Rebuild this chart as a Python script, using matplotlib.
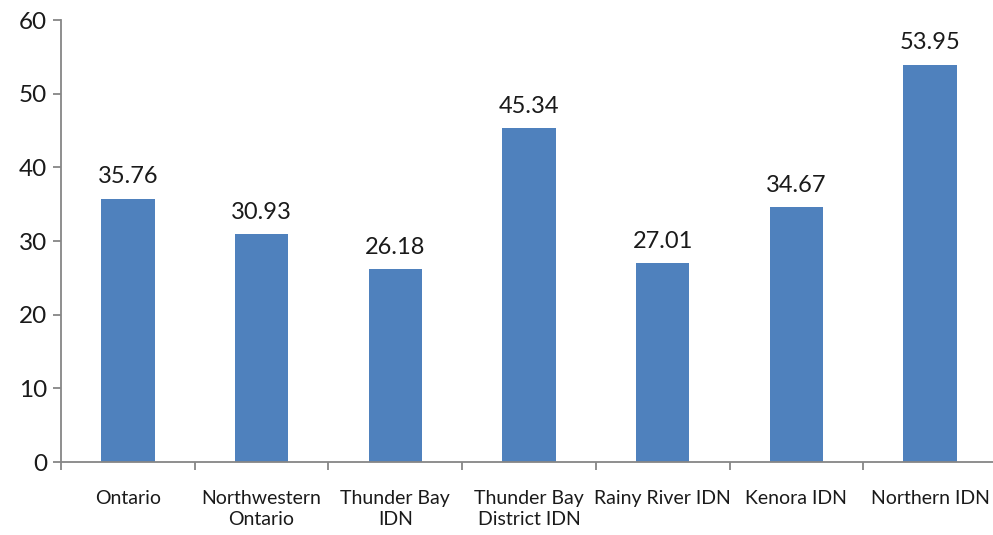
import matplotlib
matplotlib.use("Agg")
import matplotlib.pyplot as plt
import numpy as np

categories = ["Ontario", "Northwestern\nOntario", "Thunder Bay\nIDN", "Thunder Bay\nDistrict IDN",
              "Rainy River IDN", "Kenora IDN", "Northern IDN"]
values = [35.76, 30.93, 26.18, 45.34, 27.01, 34.67, 53.95]
yticks = [0, 10, 20, 30, 40, 50, 60]

plt.rcParams['font.family'] = ['Lato', 'DejaVu Sans']

fig = plt.figure(figsize=(9.93, 5.35), dpi=100)
ax = fig.add_axes([0.0614, 0.1364, 0.9426, 0.8262])

x = np.arange(len(categories))
bars = ax.bar(x, values, width=0.4, color="#4F81BD", zorder=2)
for xi, v in zip(x, values):
    ax.annotate(f"{v:.2f}", (xi, v), xytext=(0, 8), textcoords="offset points",
                ha="center", va="bottom", fontsize=17, color="#1a1a1a")

ax.set_xlim(-0.5, len(categories) - 0.5)
ax.set_ylim(0, 60)
ax.set_yticks(yticks)
ax.set_yticklabels([str(t) for t in yticks], fontsize=17.5, color="#1a1a1a")

ax.set_xticks(np.arange(len(categories) + 1) - 0.5)
ax.set_xticklabels([])
ax.set_xticks(x, minor=True)
ax.set_xticklabels(categories, minor=True, fontsize=14, color="#1a1a1a", va="top",
                   linespacing=1.3)
ax.tick_params(axis="x", which="minor", length=0, pad=20)
ax.tick_params(axis="x", which="major", length=6, color="#868686", width=1.3, direction="out")
ax.tick_params(axis="y", length=6, color="#868686", width=1.3, direction="out", pad=4)

for s in ["top", "right"]:
    ax.spines[s].set_visible(False)
for s in ["left", "bottom"]:
    ax.spines[s].set_color("#868686")
    ax.spines[s].set_linewidth(1.3)

fig.savefig("out.png", dpi=100)
